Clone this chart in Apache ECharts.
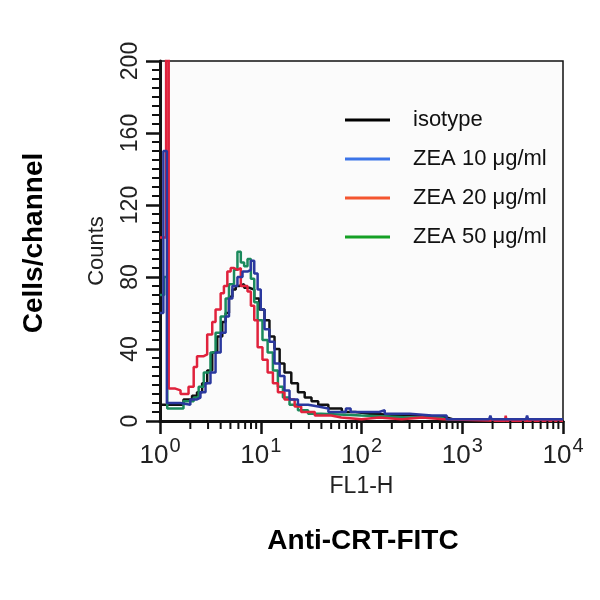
<!DOCTYPE html>
<html><head><meta charset="utf-8">
<script src="https://cdn.jsdelivr.net/npm/echarts@6/dist/echarts.min.js"></script>
<style>html,body{margin:0;padding:0;background:#fff}#c{width:600px;height:600px}</style>
</head><body><div id="c"></div>
<script>
const seriesNames = ['isotype', 'ZEA 10 μg/ml', 'ZEA 20 μg/ml', 'ZEA 50 μg/ml'];
const yTicks = [0, 40, 80, 120, 160, 200];
const xDecades = [1, 10, 100, 1000, 10000];
const xMinorTicks = [2,3,4,5,6,7,8,9,20,30,40,50,60,70,80,90,200,300,400,500,600,700,800,900,2000,3000,4000,5000,6000,7000,8000,9000];

const isotype = [[1.0,9],[1.4,9],[1.71,12],[2.08,14],[2.33,16],[2.62,21],[2.94,28],[3.3,38],[3.7,47],[4.15,55],[4.48,60],[4.84,69],[5.23,73],[5.65,75],[6.1,76],[6.84,74],[7.68,73],[8.62,68],[9.68,62],[10.9,56],[12.2,47],[13.7,40],[15.4,32],[17.2,27],[20.1,21],[23.4,16],[27.3,13],[31.9,11],[37.2,9],[46.9,7],[63.8,5],[86.7,4],[120,3.5],[200,3],[400,2],[700,1],[800,0],[10000,0]];
const zea10 = [[1.0,60],[1.08,150],[1.17,10],[1.6,9],[2.0,12],[2.33,13],[2.52,16],[2.83,21],[3.17,27],[3.56,38],[4.0,49],[4.48,58],[4.84,68],[5.23,75],[5.87,80],[6.59,83],[7.39,84],[7.98,89],[8.62,82],[9.31,73],[10.0,62],[10.9,51],[12.2,44],[13.7,32],[15.4,25],[17.2,17],[19.3,12],[23.4,9],[29.5,8],[37.2,7],[46.9,5],[66.0,5],[70.0,7],[78.0,5],[100,5],[150,6],[170,4],[300,3],[500,3],[700,1],[1850,1],[1900,3],[1950,1],[4300,1],[4400,3],[4500,1],[10000,1]];
const zea20 = [[1.0,102],[1.15,215],[1.22,18],[1.42,17],[1.6,15],[1.92,19],[2.16,30],[2.33,36],[2.72,37],[2.94,48],[3.3,55],[3.56,62],[4.0,71],[4.31,75],[4.66,83],[5.03,85],[5.43,84],[5.87,85],[6.34,75],[7.39,72],[7.98,64],[8.62,56],[9.31,41],[10.4,34],[11.7,27],[13.2,21],[14.8,16],[17.2,12],[21.7,8],[25.2,5],[34.4,3],[50,2],[63,1],[100,2],[150,1],[250,2],[400,1],[650,1],[700,0],[2650,0],[2700,3],[2750,0],[10000,0]];
const zea50 = [[1.0,70],[1.1,80],[1.18,7],[1.71,11],[2.16,13],[2.42,19],[2.72,27],[3.17,38],[3.56,49],[4.0,58],[4.48,68],[4.84,76],[5.43,84],[5.87,94],[6.34,88],[6.84,86],[7.39,90],[7.98,79],[8.62,66],[9.31,56],[10.4,45],[11.7,38],[13.2,28],[14.8,19],[16.6,13],[19.3,9],[23.4,6],[29.5,4],[40.0,3],[100,2],[300,2],[600,1],[700,0],[10000,0]];

const font = '"Liberation Sans", Arial, sans-serif';
const lineColors = ['#111111', '#2a389e', '#e0223c', '#1b8a5c'];
const legendColors = ['#000000', '#3b74e8', '#f4552f', '#15a025'];
const dataSets = [isotype, zea10, zea20, zea50];
const drawOrder = [0, 3, 2, 1];

const chart = echarts.init(document.getElementById('c'), null, {renderer: 'canvas'});
const lineSeries = drawOrder.map(i => ({
  name: seriesNames[i], type: 'line', step: 'end', symbol: 'none', clip: true,
  data: dataSets[i], z: 2 + drawOrder.indexOf(i),
  lineStyle: {color: lineColors[i], width: 2.5}, itemStyle: {color: lineColors[i]}
}));
const minorTickSeries = {
  name: 'xMinorTicks', type: 'custom', silent: true, clip: false, z: 10,
  data: xMinorTicks.map(v => [v, yTicks[0]]),
  renderItem: (params, api) => {
    const p = api.coord([api.value(0), api.value(1)]);
    return {type: 'line', shape: {x1: p[0], y1: p[1], x2: p[0], y2: p[1] + 8},
            style: {stroke: '#111', lineWidth: 2}};
  }
};

chart.setOption({
  backgroundColor: '#ffffff',
  animation: false,
  textStyle: {fontFamily: font},
  grid: {left: 160, right: 37, top: 61, bottom: 179, show: true, borderColor: '#111', borderWidth: 1.5, backgroundColor: '#fbfbfb'},
  legend: {
    orient: 'vertical', left: 340, top: 104, icon: 'rect', itemWidth: 45, itemHeight: 3, itemGap: 17,
    textStyle: {fontSize: 22, color: '#111', fontFamily: font, padding: [0, 0, 0, 18]},
    data: seriesNames.map((n, i) => ({name: n, itemStyle: {color: legendColors[i]}}))
  },
  xAxis: {
    type: 'log', logBase: 10, min: xDecades[0], max: xDecades[xDecades.length - 1],
    name: 'FL1-H', nameLocation: 'middle', nameGap: 54,
    nameTextStyle: {fontSize: 23, color: '#222', fontFamily: font},
    axisLine: {lineStyle: {color: '#111', width: 3}},
    axisTick: {length: 13, lineStyle: {color: '#111', width: 2.5}},
    minorTick: {show: false},
    splitLine: {show: false}, minorSplitLine: {show: false},
    axisLabel: {
      margin: 15, color: '#222',
      formatter: v => '{b|10}{s|' + Math.round(Math.log10(v)) + '}',
      rich: {b: {fontSize: 26, color: '#222', fontFamily: font, verticalAlign: 'bottom'}, s: {fontSize: 20, color: '#222', fontFamily: font, padding: [0, 0, 13, 1]}}
    }
  },
  yAxis: {
    type: 'value', min: yTicks[0], max: yTicks[yTicks.length - 1], interval: 40,
    splitLine: {show: false},
    axisLine: {lineStyle: {color: '#111', width: 3}},
    axisTick: {length: 14, lineStyle: {color: '#111', width: 2.5}},
    minorTick: {show: true, splitNumber: 8, length: 8, lineStyle: {color: '#111', width: 2}},
    axisLabel: {rotate: 90, fontSize: 23, color: '#222', margin: 18}
  },
  graphic: [
    {type: 'text', x: 97, y: 251, rotation: Math.PI / 2,
     style: {text: 'Counts', font: '22px ' + font, fill: '#222', textAlign: 'center', textVerticalAlign: 'middle'}},
    {type: 'text', x: 34, y: 243, rotation: Math.PI / 2,
     style: {text: 'Cells/channel', font: 'bold 28px ' + font, fill: '#000', textAlign: 'center', textVerticalAlign: 'middle'}},
    {type: 'text', x: 363, y: 541,
     style: {text: 'Anti-CRT-FITC', font: 'bold 28px ' + font, fill: '#000', textAlign: 'center', textVerticalAlign: 'middle'}}
  ],
  series: lineSeries.concat([minorTickSeries])
});
</script></body></html>
